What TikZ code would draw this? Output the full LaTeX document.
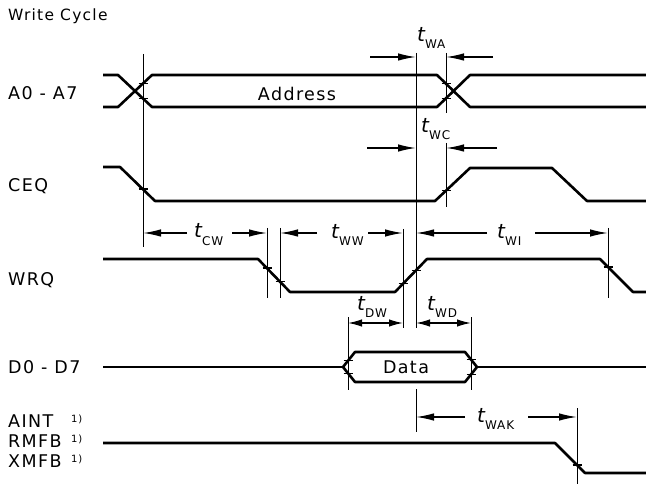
\documentclass[tikz,border=0pt]{standalone}
\usepackage{fontspec}
\setmainfont{DejaVu Sans}[LetterSpace=8]
\usetikzlibrary{arrows.meta}
\newcommand{\tsig}[1]{{\fontsize{20}{20}\selectfont\itshape t}\raisebox{-7pt}{\fontsize{12}{12}\selectfont #1}}
\begin{document}
\begin{tikzpicture}[x=1pt,y=-1pt,
  sig/.style={line width=2.6pt, line join=round},
  refl/.style={line width=0.9pt},
  dim/.style={line width=1.4pt, -{Latex[length=18pt,width=7.5pt]}},
  dimb/.style={line width=1.4pt, {Latex[length=14pt,width=7.5pt]}-{Latex[length=14pt,width=7.5pt]}},
  lbl/.style={anchor=base west, inner sep=0pt, font=\fontsize{17.5}{17.5}\selectfont},
  sup/.style={anchor=base west, inner sep=0pt, font=\fontsize{10}{10}\selectfont},
  tickm/.style={line width=1.2pt},
  tlab/.style={anchor=base west, inner sep=0pt}]
\path[use as bounding box] (0,0) rectangle (646,484);

% title and signal names
\node[lbl, font=\fontsize{15.5}{15.5}\selectfont] (title) at (8,21) {Write Cycle};
\node[lbl] (la) at (8,100) {A0 - A7};
\node[lbl] (lceq) at (8,192) {CEQ};
\node[lbl] (lwrq) at (8,286) {WRQ};
\node[lbl] (ld) at (8,373) {D0 - D7};
\node[lbl] (laint) at (8,427) {AINT};
\node[lbl] (lrmfb) at (8,447) {RMFB};
\node[lbl] (lxmfb) at (8,467) {XMFB};
\node[sup] (s1) at (71,422) {1)};
\node[sup] (s2) at (71,442) {1)};
\node[sup] (s3) at (71,462) {1)};

% signals
\draw[sig] (103,75) -- (118,75) -- (152,107) -- (437,107) -- (470,75) -- (646,75);
\draw[sig] (103,107) -- (118,107) -- (152,75) -- (437,75) -- (470,107) -- (646,107);
\node[lbl, anchor=center] (addr) at (297,94) {Address};

\draw[sig] (103,167) -- (120,167) -- (155,201) -- (435,201) -- (470,168) -- (552,168) -- (587,201) -- (646,201);

\draw[sig] (103,259) -- (258,259) -- (290,292) -- (395,292) -- (427,259) -- (600,259) -- (633,292) -- (646,292);

\draw[sig] (103,367) -- (343,367);
\draw[sig] (343,367) -- (355,352) -- (465,352) -- (477,367) -- (465,382) -- (355,382) -- cycle;
\draw[sig] (477,367) -- (646,367);
\node[lbl, anchor=center] (data) at (406,367) {Data};

\draw[sig] (103,443) -- (555,443) -- (585,473) -- (646,473);

% reference lines
\coordinate (v1a) at (143,54);  \coordinate (v1b) at (143,247);
\coordinate (v2a) at (416,53);  \coordinate (v2b) at (416,328);
\coordinate (v2c) at (416,389); \coordinate (v2d) at (416,432);
\coordinate (v3a) at (446,53);  \coordinate (v3b) at (446,113);
\coordinate (v4a) at (446,143); \coordinate (v4b) at (446,207);
\coordinate (v5a) at (267,228); \coordinate (v5b) at (267,298);
\coordinate (v6a) at (280,228); \coordinate (v6b) at (280,298);
\coordinate (v7a) at (403,229); \coordinate (v7b) at (403,328);
\coordinate (v8a) at (608,228); \coordinate (v8b) at (608,298);
\coordinate (v9a) at (348,317); \coordinate (v9b) at (348,390);
\coordinate (v10a) at (471,317); \coordinate (v10b) at (471,390);
\coordinate (v11a) at (577,408); \coordinate (v11b) at (577,484);
\foreach \a/\b in {v1a/v1b,v2a/v2b,v2c/v2d,v3a/v3b,v4a/v4b,v5a/v5b,v6a/v6b,v7a/v7b,v8a/v8b,v9a/v9b,v10a/v10b,v11a/v11b}
  \draw[refl] (\a) -- (\b);

% ticks at crossings
\foreach \x/\y in {143/83.5,143/98.5,446/83.7,446/98.3,143/189,446/190.5,
  267/268,280/281.5,403/283.8,416/270.7,608/267,
  348/360.8,348/373.2,471/359.5,471/374.5,577/465}
  \draw[tickm] (\x-4.5,\y) -- (\x+4.5,\y);

% dimension arrows
\draw[dim] (370,57) -- (416,57);
\draw[dim] (493,57) -- (446,57);
\node[tlab] (twa) at (417,42) {\tsig{WA}};

\draw[dim] (367,148) -- (416,148);
\draw[dim] (497,148) -- (446,148);
\node[tlab] (twc) at (421,133) {\tsig{WC}};

\draw[dim] (187,233) -- (143,233);
\draw[dim] (232,233) -- (267,233);
\node[tlab] (tcw) at (194,238) {\tsig{CW}};

\draw[dim] (317,233) -- (280,233);
\draw[dim] (368,233) -- (403,233);
\node[tlab] (tww) at (331,239) {\tsig{WW}};

\draw[dim] (487,233) -- (416,233);
\draw[dim] (535,233) -- (608,233);
\node[tlab] (twi) at (497,239) {\tsig{WI}};

\draw[dimb] (348,323) -- (403,323);
\node[tlab] (tdw) at (357,310) {\tsig{DW}};
\draw[dimb] (416,323) -- (471,323);
\node[tlab] (twd) at (427,310) {\tsig{WD}};

\draw[dim] (465,417) -- (416,417);
\draw[dim] (528,417) -- (577,417);
\node[tlab] (twak) at (477,422) {\tsig{WAK}};
\end{tikzpicture}
\end{document}
